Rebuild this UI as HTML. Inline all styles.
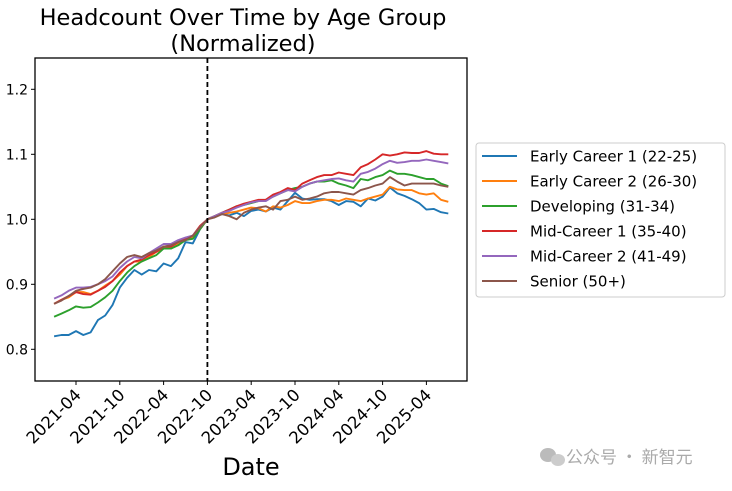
<!DOCTYPE html>
<html><head><meta charset="utf-8"><style>
body{margin:0;background:#fff;}
svg text{font-family:"DejaVu Sans","Liberation Sans","Noto Sans CJK SC",sans-serif;fill:#000;}
</style></head><body>
<svg width="732" height="486" viewBox="0 0 732 486">
<g id="root"></g>
</svg>
<script>
const categories = [];
for (let y = 2021, m = 1, i = 0; i < 55; i++) { categories.push(y + '-' + String(m).padStart(2,'0')); m++; if (m > 12) { m = 1; y++; } }
const seriesNames = ["Early Career 1 (22-25)","Early Career 2 (26-30)","Developing (31-34)","Mid-Career 1 (35-40)","Mid-Career 2 (41-49)","Senior (50+)"];
const seriesColors = ["#1f77b4","#ff7f0e","#2ca02c","#d62728","#9467bd","#8c564b"];
const earlyCareer1 = [0.820,0.822,0.822,0.828,0.822,0.826,0.845,0.852,0.868,0.895,0.910,0.922,0.915,0.922,0.920,0.932,0.928,0.940,0.965,0.963,0.985,1.000,1.005,1.008,1.006,1.010,1.005,1.013,1.015,1.012,1.018,1.015,1.028,1.041,1.032,1.030,1.031,1.031,1.028,1.022,1.028,1.027,1.020,1.032,1.029,1.035,1.049,1.040,1.036,1.031,1.025,1.015,1.016,1.011,1.009];
const earlyCareer2 = [0.870,0.876,0.880,0.888,0.888,0.885,0.890,0.898,0.905,0.915,0.928,0.935,0.935,0.942,0.950,0.955,0.955,0.962,0.968,0.972,0.985,1.000,1.005,1.008,1.010,1.012,1.015,1.018,1.017,1.012,1.020,1.018,1.022,1.028,1.025,1.025,1.028,1.030,1.030,1.028,1.032,1.030,1.028,1.032,1.035,1.038,1.050,1.046,1.045,1.045,1.040,1.038,1.040,1.030,1.027];
const developing = [0.850,0.855,0.860,0.866,0.864,0.865,0.872,0.880,0.890,0.905,0.918,0.928,0.935,0.940,0.945,0.955,0.955,0.960,0.968,0.970,0.985,1.000,1.005,1.010,1.015,1.020,1.022,1.025,1.028,1.030,1.035,1.040,1.045,1.048,1.050,1.055,1.058,1.058,1.060,1.055,1.052,1.048,1.062,1.060,1.065,1.068,1.075,1.070,1.070,1.068,1.065,1.062,1.062,1.055,1.051];
const midCareer1 = [0.870,0.876,0.882,0.888,0.885,0.884,0.890,0.896,0.905,0.918,0.928,0.935,0.938,0.945,0.950,0.958,0.958,0.965,0.970,0.975,0.990,1.000,1.005,1.010,1.015,1.020,1.024,1.027,1.030,1.030,1.038,1.042,1.048,1.045,1.055,1.060,1.065,1.068,1.068,1.072,1.070,1.068,1.080,1.085,1.092,1.100,1.098,1.100,1.103,1.102,1.102,1.105,1.101,1.100,1.100];
const midCareer2 = [0.878,0.883,0.890,0.895,0.895,0.896,0.900,0.905,0.912,0.925,0.935,0.942,0.940,0.948,0.955,0.962,0.962,0.968,0.972,0.975,0.988,1.000,1.005,1.010,1.013,1.018,1.022,1.026,1.028,1.028,1.035,1.040,1.045,1.043,1.050,1.055,1.058,1.060,1.062,1.063,1.060,1.058,1.070,1.073,1.078,1.085,1.090,1.087,1.088,1.090,1.090,1.092,1.090,1.088,1.086];
const senior = [0.870,0.875,0.882,0.890,0.893,0.895,0.900,0.908,0.920,0.932,0.942,0.945,0.942,0.948,0.952,0.958,0.960,0.965,0.968,0.975,0.988,1.000,1.003,1.008,1.005,1.000,1.010,1.015,1.018,1.020,1.015,1.028,1.030,1.035,1.030,1.032,1.035,1.040,1.042,1.042,1.040,1.038,1.045,1.048,1.052,1.055,1.065,1.058,1.052,1.055,1.055,1.055,1.055,1.052,1.050];
const allSeries = [earlyCareer1, earlyCareer2, developing, midCareer1, midCareer2, senior];
const yTicks = [0.8, 0.9, 1.0, 1.1, 1.2];
const xTickLabels = ["2021-04","2021-10","2022-04","2022-10","2023-04","2023-10","2024-04","2024-10","2025-04"];
const markerDate = "2022-10";

const L = 35, R = 467, T = 58, B = 381;
const xScale = i => 76 + (i - 3) * 7.3;
const yScale = v => 219.3 - (v - 1) * 650;
const NS = "http://www.w3.org/2000/svg";
const root = document.getElementById('root');
function mk(tag, attrs, parent) {
  const e = document.createElementNS(NS, tag);
  for (const k in attrs) e.setAttribute(k, attrs[k]);
  (parent || root).appendChild(e);
  return e;
}
allSeries.forEach((s, si) => {
  const p = mk('polyline', {points: s.map((v, i) => xScale(i).toFixed(1) + ',' + yScale(v).toFixed(1)).join(' '), fill: 'none', stroke: seriesColors[si], 'stroke-width': 1.9, 'stroke-linejoin': 'round'});
  
  
});
const di = categories.indexOf(markerDate);
const dl = mk('line', {x1: xScale(di), x2: xScale(di), y1: T, y2: B, stroke: '#000', 'stroke-width': 1.8, 'stroke-dasharray': '5,3'});


const fr = mk('rect', {x: L, y: T, width: R - L, height: B - T, fill: 'none', stroke: '#000', 'stroke-width': 1.3});


yTicks.forEach(v => {
  const y = yScale(v);
  mk('line', {x1: L - 4, x2: L, y1: y, y2: y, stroke: '#000', 'stroke-width': 1});
  const t = mk('text', {x: L - 7, y: y + 5, 'text-anchor': 'end', 'font-size': 14});
  t.textContent = v.toFixed(1);
  
  
});
xTickLabels.forEach(lab => {
  const x = xScale(categories.indexOf(lab));
  mk('line', {x1: x, x2: x, y1: B, y2: B + 4, stroke: '#000', 'stroke-width': 1});
  const t = mk('text', {x: x + 6, y: B + 15, 'text-anchor': 'end', 'font-size': 16.5, transform: 'rotate(-45 ' + (x + 6) + ' ' + (B + 15) + ')'});
  t.textContent = lab;
  
  
});
const lg = mk('rect', {x: 476, y: 143, width: 249, height: 154, rx: 3, fill: '#fff', stroke: '#ccc', 'stroke-width': 1});


seriesNames.forEach((n, i) => {
  const y = 156 + i * 25;
  const ln = mk('line', {x1: 482, x2: 517, y1: y, y2: y, stroke: seriesColors[i], 'stroke-width': 2});
  
  
  const t = mk('text', {x: 530, y: y + 5.5, 'font-size': 15});
  t.textContent = n;
  
  
});
</script>
<svg style="position:absolute;left:0;top:0" width="732" height="486">
<text x="243" y="25" text-anchor="middle" font-size="22.5">Headcount Over Time by Age Group</text>
<text x="243" y="51" text-anchor="middle" font-size="22.5">(Normalized)</text>
<text x="251" y="475" text-anchor="middle" font-size="24">Date</text>
<g fill="#bbb"><ellipse cx="548" cy="455" rx="8" ry="7"/><ellipse cx="558" cy="460" rx="7" ry="6" fill="#ccc"/></g>
<text x="566" y="463" font-size="17" style="fill:#aaa;font-family:'Noto Sans CJK SC',sans-serif">公众号 · 新智元</text>
</svg>
</body></html>
